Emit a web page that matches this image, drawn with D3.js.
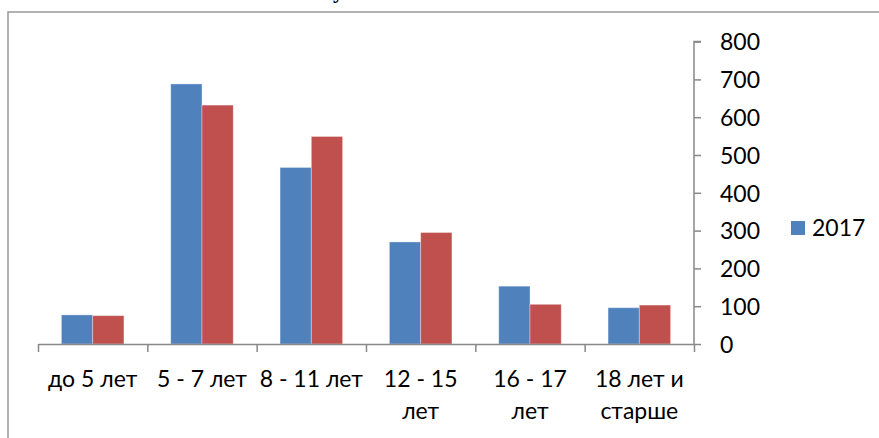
<!DOCTYPE html>
<html>
<head>
<meta charset="utf-8">
<script src="https://cdn.jsdelivr.net/npm/d3@7"></script>
<style>
  body { margin: 0; background: #fff; }
  svg text { font-family: Lato, "Open Sans", sans-serif; fill: #000; }
</style>
</head>
<body>
<div id="chart"></div>
<script>
// data
var categories = ["до 5 лет", "5 - 7 лет", "8 - 11 лет", "12 - 15|лет", "16 - 17|лет", "18 лет и|старше"];
var seriesNames = ["2017", "2018"];
var values2017 = [77, 688, 467, 270, 153, 96];
var values2018 = [75, 632, 549, 295, 105, 103];
var yTicks = [0, 100, 200, 300, 400, 500, 600, 700, 800];

var colors = ["#4F81BD", "#C0504D"];
var W = 879, H = 438;
var plotL = 38, plotR = 694, plotT = 41.6, plotB = 344;
var fs = "23px";

var svg = d3.select("#chart").append("svg")
    .attr("width", W).attr("height", H);

// cut-off title from the page above the chart
svg.append("text")
    .attr("x", 333).attr("y", -2)
    .style("font-family", "'Liberation Serif', serif")
    .style("font-size", "22px").style("font-weight", "bold")
    .text("у");

// outer frame
svg.append("rect")
    .attr("x", 8).attr("y", 12).attr("width", W + 20).attr("height", H + 20)
    .style("fill", "none").style("stroke", "#999").style("stroke-width", 1.5);

var x0 = d3.scaleBand().domain(d3.range(categories.length)).range([plotL, plotR]).paddingInner(0);
var bw = x0.bandwidth();
var x1 = d3.scaleBand().domain(seriesNames).range([bw * 0.214, bw * 0.786]);
var y = d3.scaleLinear().domain([0, 800]).range([plotB, plotT]);

var rows = categories.map(function(c, i) {
  return [{s: "2017", v: values2017[i]}, {s: "2018", v: values2018[i]}];
});

var g = svg.selectAll(".grp").data(rows).enter().append("g")
    .attr("transform", function(d, i) { return "translate(" + x0(i) + ",0)"; });

g.selectAll("rect").data(function(d) { return d; }).enter().append("rect")
    .attr("x", function(d) { return x1(d.s); })
    .attr("width", x1.bandwidth())
    .attr("y", function(d) { return y(d.v); })
    .attr("height", function(d) { return plotB - y(d.v); })
    .style("fill", function(d, i) { return colors[i]; })
    .style("stroke", "rgba(255,255,255,0.35)")
    .style("stroke-width", 1);

// x axis: ticks on category boundaries
var xb = d3.scaleLinear().domain([0, categories.length]).range([plotL, plotR]);
var xAxis = svg.append("g").attr("transform", "translate(0," + plotB + ")")
    .call(d3.axisBottom(xb).tickValues(d3.range(categories.length + 1)).tickFormat("").tickSize(8).tickSizeOuter(0));
xAxis.selectAll("path, line").style("stroke", "#888").style("stroke-width", 1.5);

// y axis on the right
var yAxis = svg.append("g").attr("transform", "translate(" + plotR + ",0)")
    .call(d3.axisRight(y).tickValues(yTicks).tickSize(7).tickSizeOuter(0).tickPadding(19));
yAxis.selectAll("path, line").style("stroke", "#888").style("stroke-width", 1.5);
yAxis.selectAll("text").style("font-size", fs).style("font-family", "Lato, sans-serif").attr("dy", "0.36em");
yAxis.select(".domain").attr("d", "M0," + plotB + "V" + plotT + "h7");

// category labels, wrapped
categories.forEach(function(c, i) {
  var lines = c.split("|");
  var t = svg.append("text")
      .attr("x", x0(i) + bw / 2)
      .attr("text-anchor", "middle")
      .style("font-size", fs);
  lines.forEach(function(l, k) {
    t.append("tspan").attr("x", x0(i) + bw / 2).attr("y", 387 + k * 32).text(l);
  });
});

// legend (only first entry visible in the picture)
var leg = svg.append("g").attr("transform", "translate(791,221)");
leg.append("rect").attr("width", 14).attr("height", 14).style("fill", colors[0]);
leg.append("text").attr("x", 21).attr("y", 14.5).style("font-size", fs).text(seriesNames[0]);
</script>
</body>
</html>
